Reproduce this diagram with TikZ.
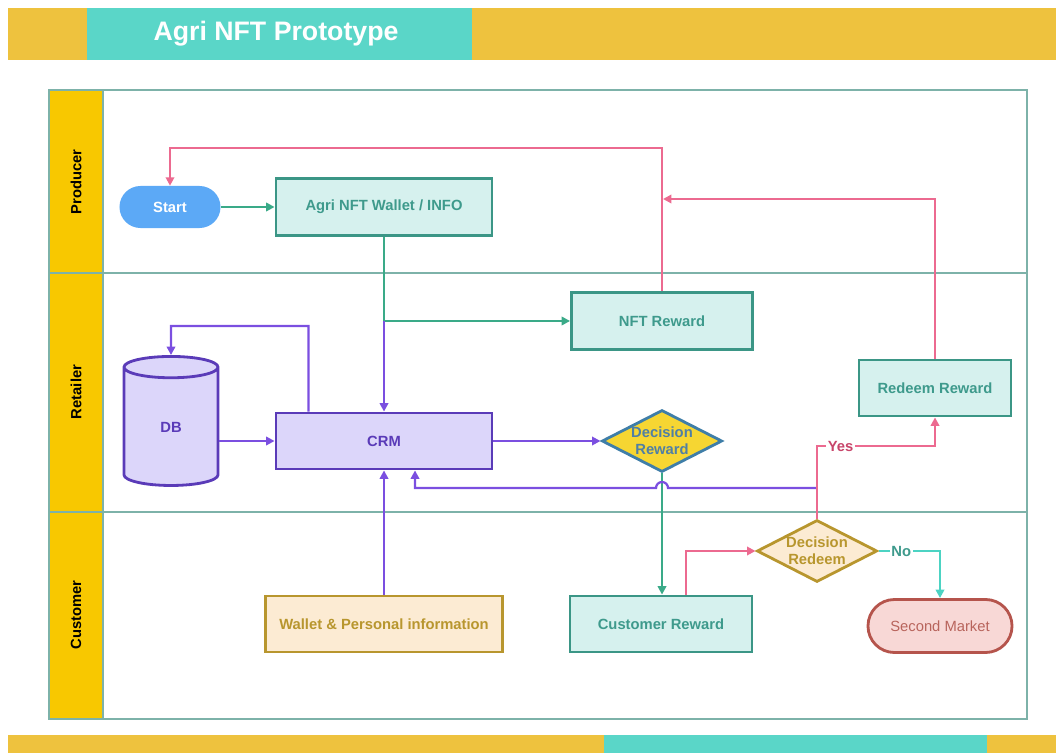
\documentclass[tikz,border=0pt]{standalone}
\usepackage{fontspec}
\setmainfont{Liberation Sans}
\usetikzlibrary{arrows.meta,shapes.geometric,calc}

\definecolor{baryellow}{HTML}{EEC23E}
\definecolor{barteal}{HTML}{5AD6C8}
\definecolor{laneyellow}{HTML}{F8C800}
\definecolor{laneline}{HTML}{7DB2A9}
\definecolor{startblue}{HTML}{5CA9F6}
\definecolor{tealdraw}{HTML}{3B9686}
\definecolor{tealfill}{HTML}{D6F1EE}
\definecolor{tealtext}{HTML}{3E9A8C}
\definecolor{purpdraw}{HTML}{5A3BB8}
\definecolor{purpfill}{HTML}{DCD6FA}
\definecolor{purpline}{HTML}{7B4FE0}
\definecolor{greenline}{HTML}{3AAA88}
\definecolor{pinkline}{HTML}{EC6A90}
\definecolor{decyellow}{HTML}{F6D632}
\definecolor{decblue}{HTML}{3F7EA8}
\definecolor{dectext}{HTML}{4F7FA5}
\definecolor{beigefill}{HTML}{FCEBD3}
\definecolor{beigedraw}{HTML}{B8962E}
\definecolor{mktfill}{HTML}{F8D8D6}
\definecolor{mktdraw}{HTML}{B5544C}
\definecolor{mkttext}{HTML}{B8645C}
\definecolor{noline}{HTML}{4CD3C3}
\definecolor{yestext}{HTML}{C8456A}

\tikzset{
  nodefont/.style={font=\bfseries\fontsize{10.5}{12}\selectfont},
  tealbox/.style={nodefont, draw=tealdraw, fill=tealfill, text=tealtext, line width=2pt, inner sep=0pt},
  purpbox/.style={nodefont, draw=purpdraw, fill=purpfill, text=purpdraw, line width=2pt, inner sep=0pt},
  beigebox/.style={nodefont, draw=beigedraw, fill=beigefill, text=beigedraw, line width=2pt, inner sep=0pt},
  decbox/.style={nodefont, diamond, aspect=1.94, align=center, line width=2pt, inner sep=0.6pt},
  lanelabel/.style={nodefont, rotate=90, text=black},
  conn/.style={line width=1.6pt, -{Triangle[length=6pt,width=6pt]}},
  plain/.style={line width=1.6pt},
}

\begin{document}
\begin{tikzpicture}[x=0.025cm,y=-0.025cm]
  \useasboundingbox (0,0) rectangle (1056,753);
  %draw top and bottom bars
  \fill[baryellow] (8,8) rectangle (1056,60);
  \fill[barteal] (87,8) rectangle (472,60);
  \node[text=white, font=\bfseries\fontsize{19}{22}\selectfont] (title) at (276,34) {Agri NFT Prototype};
  \fill[baryellow] (8,735) rectangle (1056,753);
  \fill[barteal] (604,735) rectangle (987,753);
  %draw lanes
  \fill[laneyellow] (49,90) rectangle (103,719);
  \draw[laneline, line width=1pt] (49,90) rectangle (1027,719);
  \draw[laneline, line width=1pt] (103,90) -- (103,719);
  \foreach \y in {273, 512}{
    \draw[laneline, line width=1pt] (49,\y) -- (1027,\y);
  }
  \node[lanelabel] (producer) at (76,182) {Producer};
  \node[lanelabel] (retailer) at (76,392) {Retailer};
  \node[lanelabel] (customer) at (76,615) {Customer};
  %draw nodes
  \node[nodefont, fill=startblue, text=white, rounded corners=0.525cm, minimum width=2.525cm, minimum height=1.05cm] (start) at (170,207) {Start};
  \node[tealbox, minimum width=5.4cm, minimum height=1.425cm] (wallet) at (384,207) {Agri NFT Wallet / INFO};
  \node[tealbox, minimum width=4.525cm, minimum height=1.425cm] (nft) at (662,321) {NFT Reward};
  \node[purpbox, cylinder, shape border rotate=90, aspect=1, minimum width=2.35cm, minimum height=3.225cm] (db) at (171,427) {DB};
  \node[purpbox, minimum width=5.4cm, minimum height=1.4cm] (crm) at (384,441) {CRM};
  \node[decbox, draw=decblue, fill=decyellow, text=dectext] (decrew) at (662,441) {Decision\\Reward};
  \node[tealbox, minimum width=3.8cm, minimum height=1.4cm] (redeem) at (935,388) {Redeem Reward};
  \node[beigebox, minimum width=5.925cm, minimum height=1.4cm] (wpi) at (384,624) {Wallet \& Personal information};
  \node[tealbox, minimum width=4.55cm, minimum height=1.4cm] (custrew) at (661,624) {Customer Reward};
  \node[decbox, draw=beigedraw, fill=beigefill, text=beigedraw] (decred) at (817,551) {Decision\\Redeem};
  \node[draw=mktdraw, fill=mktfill, text=mkttext, line width=2pt, rounded corners=0.66cm, minimum width=3.6cm, minimum height=1.325cm, font=\fontsize{10.5}{12}\selectfont] (secmkt) at (940,626) {Second Market};
  %turning points
  \coordinate (topturn) at (170,148);
  \coordinate (redeemturn) at (663,199);
  \coordinate (split) at (384,321);
  \coordinate (dbturn) at (171,326);
  \coordinate (backstart) at (817,488);
  \coordinate (jump) at (662,488);
  \coordinate (backturn) at (415,488);
  \coordinate (yesturn) at (935,446);
  \coordinate (noturn) at (940,551);
  %draw connectors
  \draw[conn, greenline] (start) -- (wallet);
  \draw[conn, pinkline] (nft.north) |- (topturn) -- (start.north);
  \draw[conn, pinkline] (redeem.north) |- (redeemturn);
  \draw[plain, greenline] (wallet.south) -- (split);
  \draw[conn, greenline] (split) -- (nft.west);
  \draw[conn, purpline] (split) -- (crm.north);
  \draw[conn, purpline] (db.east |- crm.west) -- (crm.west);
  \draw[conn, purpline] ([xshift=0.85cm]crm.north west) |- (dbturn) -- (db.north);
  \draw[conn, purpline] (crm.east) -- (decrew.west);
  \draw[conn, greenline] (decrew.south) -- (decrew.south |- custrew.north);
  \draw[conn, purpline] (backstart) -- ([xshift=0.15cm]jump) arc[start angle=0, end angle=180, radius=0.15cm] -- (backturn) -- (backturn |- crm.south);
  \draw[conn, purpline] (wpi.north) -- (crm.south);
  \draw[conn, pinkline] ([xshift=0.625cm]custrew.north) |- (decred.west);
  \draw[conn, pinkline] (decred.north) |- node[pos=0.6, fill=white, inner sep=1pt, text=yestext, nodefont]{Yes} (yesturn) -- (redeem.south);
  \draw[conn, noline] (decred.east) -- node[pos=0.37, fill=white, inner sep=1pt, text=tealtext, nodefont]{No} (noturn) -- (secmkt.north);
\end{tikzpicture}
\end{document}
